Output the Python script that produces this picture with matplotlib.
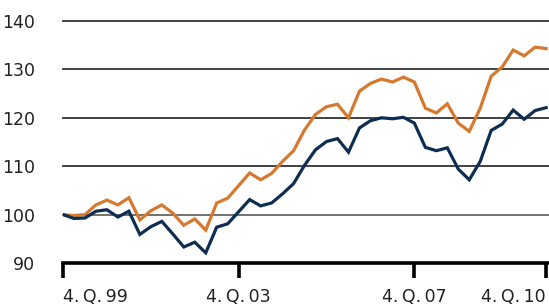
import matplotlib
matplotlib.use("Agg")
import matplotlib.pyplot as plt

# quarterly index, 4Q1999 .. 4Q2010 (45 quarters)
orange = [100.0, 99.8, 100.0, 102.0, 103.0, 102.0, 103.5, 98.9, 100.8, 102.0,
          100.3, 97.8, 99.1, 96.8, 102.4, 103.4, 106.0, 108.6, 107.2, 108.5,
          111.0, 113.2, 117.5, 120.7, 122.3, 122.8, 120.0, 125.5, 127.1, 128.0,
          127.4, 128.4, 127.4, 122.0, 121.0, 122.9, 118.9, 117.2, 122.0, 128.6,
          130.5, 134.0, 132.8, 134.6, 134.3]
navy = [100.0, 99.2, 99.3, 100.7, 101.0, 99.5, 100.7, 95.9, 97.5, 98.6,
        96.0, 93.3, 94.3, 92.1, 97.4, 98.1, 100.6, 103.1, 101.8, 102.4,
        104.3, 106.4, 110.2, 113.4, 115.1, 115.7, 112.9, 117.9, 119.4, 120.0,
        119.8, 120.1, 118.9, 113.9, 113.2, 113.8, 109.4, 107.2, 111.0, 117.4,
        118.7, 121.6, 119.7, 121.5, 122.1]
xtick_pos = [0, 16, 32, 44]
xtick_labels = ["4.\u2009Q.\u200999", "4.\u2009Q.\u200903", "4.\u2009Q.\u200907", "4.\u2009Q.\u200910"]
yticks = [90, 100, 110, 120, 130, 140]

W, H = 549, 306
fig = plt.figure(figsize=(W / 100, H / 100), dpi=100)
left, right = 63 / W, 549 / W
bottom, top = (H - 263) / H, (H - 21) / H
ax = fig.add_axes([left, bottom, right - left, top - bottom])

x = list(range(len(orange)))
ax.plot(x, orange, color="#D6792E", lw=2.3, zorder=3, solid_joinstyle="miter")
ax.plot(x, navy, color="#0D2D52", lw=2.3, zorder=3, solid_joinstyle="miter")

for v in yticks[1:]:
    ax.axhline(v, color="#666666" if v == 100 else "#333333", lw=1.3, zorder=1, clip_on=False)

ax.set_xlim(0, (549 - 63) / 10.98)
ax.set_ylim(90, 140)

for s in ["top", "right", "left"]:
    ax.spines[s].set_visible(False)
ax.spines["bottom"].set_linewidth(2.6)
ax.spines["bottom"].set_color("black")
ax.spines["bottom"].set_zorder(4)

ax.set_yticks(yticks)
ax.set_yticklabels([str(v) for v in yticks])
ax.tick_params(axis="y", length=0, pad=20, labelsize=12.5, labelcolor="#222222")

ax.set_xticks(xtick_pos)
ax.set_xticklabels([])
ax.tick_params(axis="x", direction="out", length=11, width=2.6, color="black")
aligns = ["left", "center", "center", "right"]
for p, lab, ha in zip(xtick_pos, xtick_labels, aligns):
    ax.text(p, 83.0, lab, ha=ha, va="center", fontsize=12.5, color="#222222",
            clip_on=False)

fig.savefig("out.png", dpi=100)
